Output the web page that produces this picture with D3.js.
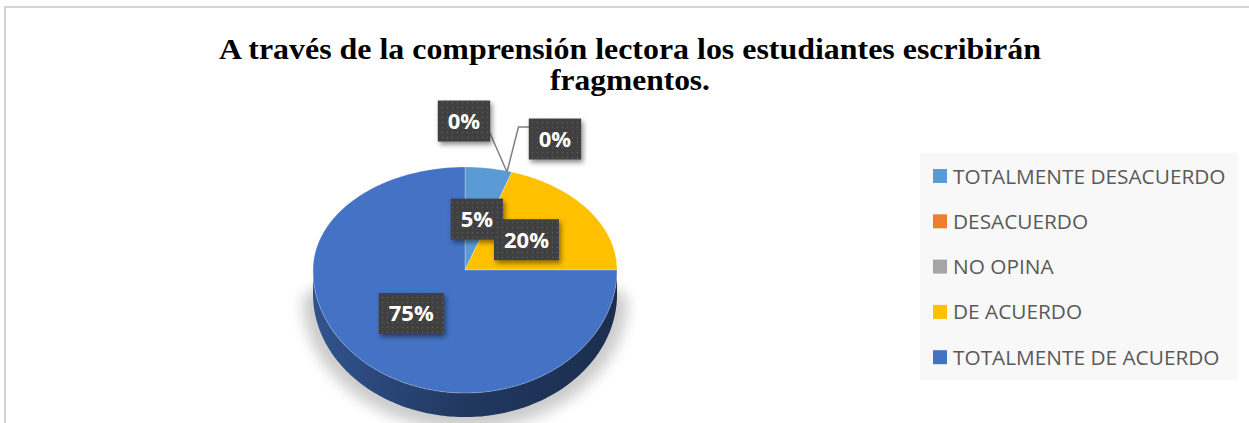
<!DOCTYPE html>
<html>
<head>
<meta charset="utf-8">
<script src="https://cdn.jsdelivr.net/npm/d3@7"></script>
<style>
  body { margin: 0; background: #fff; }
  svg { display: block; }
</style>
</head>
<body>
<div id="chart"></div>
<script>
// data
var categories = ["TOTALMENTE DESACUERDO", "DESACUERDO", "NO OPINA", "DE ACUERDO", "TOTALMENTE DE ACUERDO"];
var values = [5, 0, 0, 20, 75];
var colors = ["#5b9bd5", "#ed7d31", "#a5a5a5", "#ffc000", "#4472c4"];
var titleLines = ["A través de la comprensión lectora los estudiantes escribirán", "fragmentos."];

var width = 1249, height = 423;
var svg = d3.select("#chart").append("svg").attr("width", width).attr("height", height);
var defs = svg.append("defs");

// frame
svg.append("rect").attr("x", 5).attr("y", 7).attr("width", 1300).attr("height", 500)
  .attr("fill", "#fff").attr("stroke", "#d4d4d4").attr("stroke-width", 2);

// title
var titleWidths = [822, 160];
svg.append("g").selectAll("text")
  .data(titleLines)
  .enter().append("text")
    .attr("x", 630)
    .attr("y", function(d, i){ return 59 + i * 31; })
    .attr("text-anchor", "middle")
    .attr("textLength", function(d, i){ return titleWidths[i]; })
    .attr("lengthAdjust", "spacingAndGlyphs")
    .style("font-family", "'Liberation Serif', 'Times New Roman', serif")
    .style("font-weight", "bold")
    .style("font-size", "30px")
    .style("fill", "#000")
    .text(function(d){ return d; });

// pie geometry (tilted, front half a bit taller)
var cx = 465, cy = 270, rx = 152, ryT = 103, ryB = 123, depth = 24;
function rim(a, f){
  f = f || 1;
  var c = Math.cos(a);
  return [cx + f * rx * Math.sin(a), cy - f * (c >= 0 ? ryT : ryB) * c];
}
function arcPts(a0, a1, dy, f){
  var n = Math.max(2, Math.ceil((a1 - a0) / 0.02));
  return d3.range(n + 1).map(function(i){
    var p = rim(a0 + (a1 - a0) * i / n, f);
    return [p[0], p[1] + (dy || 0)];
  });
}
var line = d3.line();

var pie = d3.pie().sort(null).value(function(d){ return d; }).startAngle(0).endAngle(2 * Math.PI);
var arcs = pie(values);

// filters / patterns
var blur = defs.append("filter").attr("id", "pieShadow").attr("x", "-20%").attr("y", "-20%").attr("width", "140%").attr("height", "160%");
blur.append("feGaussianBlur").attr("stdDeviation", 7);

var ds = defs.append("filter").attr("id", "boxShadow").attr("x", "-30%").attr("y", "-30%").attr("width", "170%").attr("height", "170%");
ds.append("feDropShadow").attr("dx", 2).attr("dy", 3).attr("stdDeviation", 2.5)
  .attr("flood-color", "#000").attr("flood-opacity", 0.45);

var pat = defs.append("pattern").attr("id", "dots").attr("patternUnits", "userSpaceOnUse")
  .attr("width", 5).attr("height", 5);
pat.append("rect").attr("width", 5).attr("height", 5).attr("fill", "#404040");
pat.append("circle").attr("cx", 2.5).attr("cy", 2.5).attr("r", 0.7).attr("fill", "#5e5e5e");

var sideGrad = defs.append("linearGradient").attr("id", "sideShade")
  .attr("gradientUnits", "userSpaceOnUse").attr("x1", cx - rx).attr("x2", cx + rx).attr("y1", 0).attr("y2", 0);
sideGrad.append("stop").attr("offset", 0).attr("stop-color", "#000").attr("stop-opacity", 0);
sideGrad.append("stop").attr("offset", 0.5).attr("stop-color", "#000").attr("stop-opacity", 0.33);
sideGrad.append("stop").attr("offset", 1).attr("stop-color", "#000").attr("stop-opacity", 0.45);

// soft shadow under the pie
var outline = arcPts(Math.PI / 2, 3 * Math.PI / 2, depth, 1.07).concat(arcPts(-Math.PI / 2, Math.PI / 2, 0, 0.85));
svg.append("path")
  .attr("d", line(outline) + "Z")
  .attr("transform", "translate(0,4)")
  .attr("fill", "#000").attr("opacity", 0.2)
  .attr("filter", "url(#pieShadow)");

// side walls (front half only)
var sides = svg.append("g");
arcs.forEach(function(d, i){
  var a0 = Math.max(d.startAngle, Math.PI / 2), a1 = Math.min(d.endAngle, 3 * Math.PI / 2);
  if (a1 <= a0) return;
  var pts = arcPts(a0, a1, 0).concat(arcPts(a0, a1, depth).reverse());
  sides.append("path").attr("d", line(pts) + "Z")
    .attr("fill", d3.color(colors[i]).darker(0.9));
  sides.append("path").attr("d", line(pts) + "Z")
    .attr("fill", "url(#sideShade)");
});

// top faces
svg.append("g").selectAll("path")
  .data(arcs.filter(function(d){ return d.endAngle > d.startAngle; }))
  .enter().append("path")
    .attr("d", function(d){ return line([[cx, cy]].concat(arcPts(d.startAngle, d.endAngle, 0))) + "Z"; })
    .attr("fill", function(d){ return colors[d.index]; })
    .attr("stroke", "#fff").attr("stroke-opacity", 0.35).attr("stroke-width", 0.8);

// data labels
var fmt = function(v){ return d3.format(".0%")(v / 100); };
var labelFont = "'Open Sans', 'Noto Sans', sans-serif";
var zeroOffsets = [[-43, -51], [48, -33]];
var zeroCount = 0;
var labels = arcs.map(function(d){
  var mid = (d.startAngle + d.endAngle) / 2;
  if (d.value > 0) {
    var p = rim(mid, 0.5);
    return {x: p[0], y: p[1], text: fmt(d.value), inside: true};
  }
  var anchor = rim(d.startAngle);
  anchor = [anchor[0] - 5, anchor[1]];
  var off = zeroOffsets[zeroCount++ % zeroOffsets.length];
  return {x: anchor[0] + off[0], y: anchor[1] + off[1], text: fmt(d.value), inside: false, anchor: anchor, side: off[0] < 0 ? -1 : 1};
});

var labelG = svg.append("g");
var padX = 10, boxH = 41, labelSize = 22;

// leader lines for the outside labels
labels.forEach(function(l){
  if (l.inside) return;
  var tw = 31;
  var pts;
  if (l.side < 0) {
    pts = [[l.x + tw / 2 + padX, l.y + 11], l.anchor];
  } else {
    var ex = l.x - tw / 2 - padX;
    pts = [[ex, l.y - 12], [ex - 11, l.y - 12], l.anchor];
  }
  labelG.append("path").attr("d", line(pts))
    .attr("fill", "none").attr("stroke", "#7f7f7f").attr("stroke-width", 1.5);
});

labels.forEach(function(l){
  var g = labelG.append("g");
  var t = g.append("text")
    .attr("x", l.x).attr("y", l.y + 8)
    .attr("text-anchor", "middle")
    .style("font-family", labelFont).style("font-weight", "bold")
    .style("font-size", labelSize + "px").style("fill", "#fff")
    .text(l.text);
  var w = t.node().getComputedTextLength() + 2 * padX;
  g.insert("rect", "text")
    .attr("x", l.x - w / 2).attr("y", l.y - boxH / 2)
    .attr("width", w).attr("height", boxH)
    .attr("fill", "url(#dots)")
    .attr("filter", "url(#boxShadow)");
});

// legend
var legend = svg.append("g");
legend.append("rect").attr("x", 920).attr("y", 153).attr("width", 318).attr("height", 227).attr("fill", "#f8f8f8");
var rows = legend.selectAll("g.row")
  .data(categories)
  .enter().append("g")
    .attr("class", "row")
    .attr("transform", function(d, i){ return "translate(933," + (176 + i * 45.3) + ")"; });
rows.append("rect").attr("x", 0).attr("y", -7).attr("width", 14).attr("height", 14)
  .attr("fill", function(d, i){ return colors[i]; });
rows.append("text").attr("x", 20).attr("y", 7.5)
  .style("font-family", labelFont).style("font-size", "20.8px").style("fill", "#595959")
  .text(function(d){ return d; });
</script>
</body>
</html>
